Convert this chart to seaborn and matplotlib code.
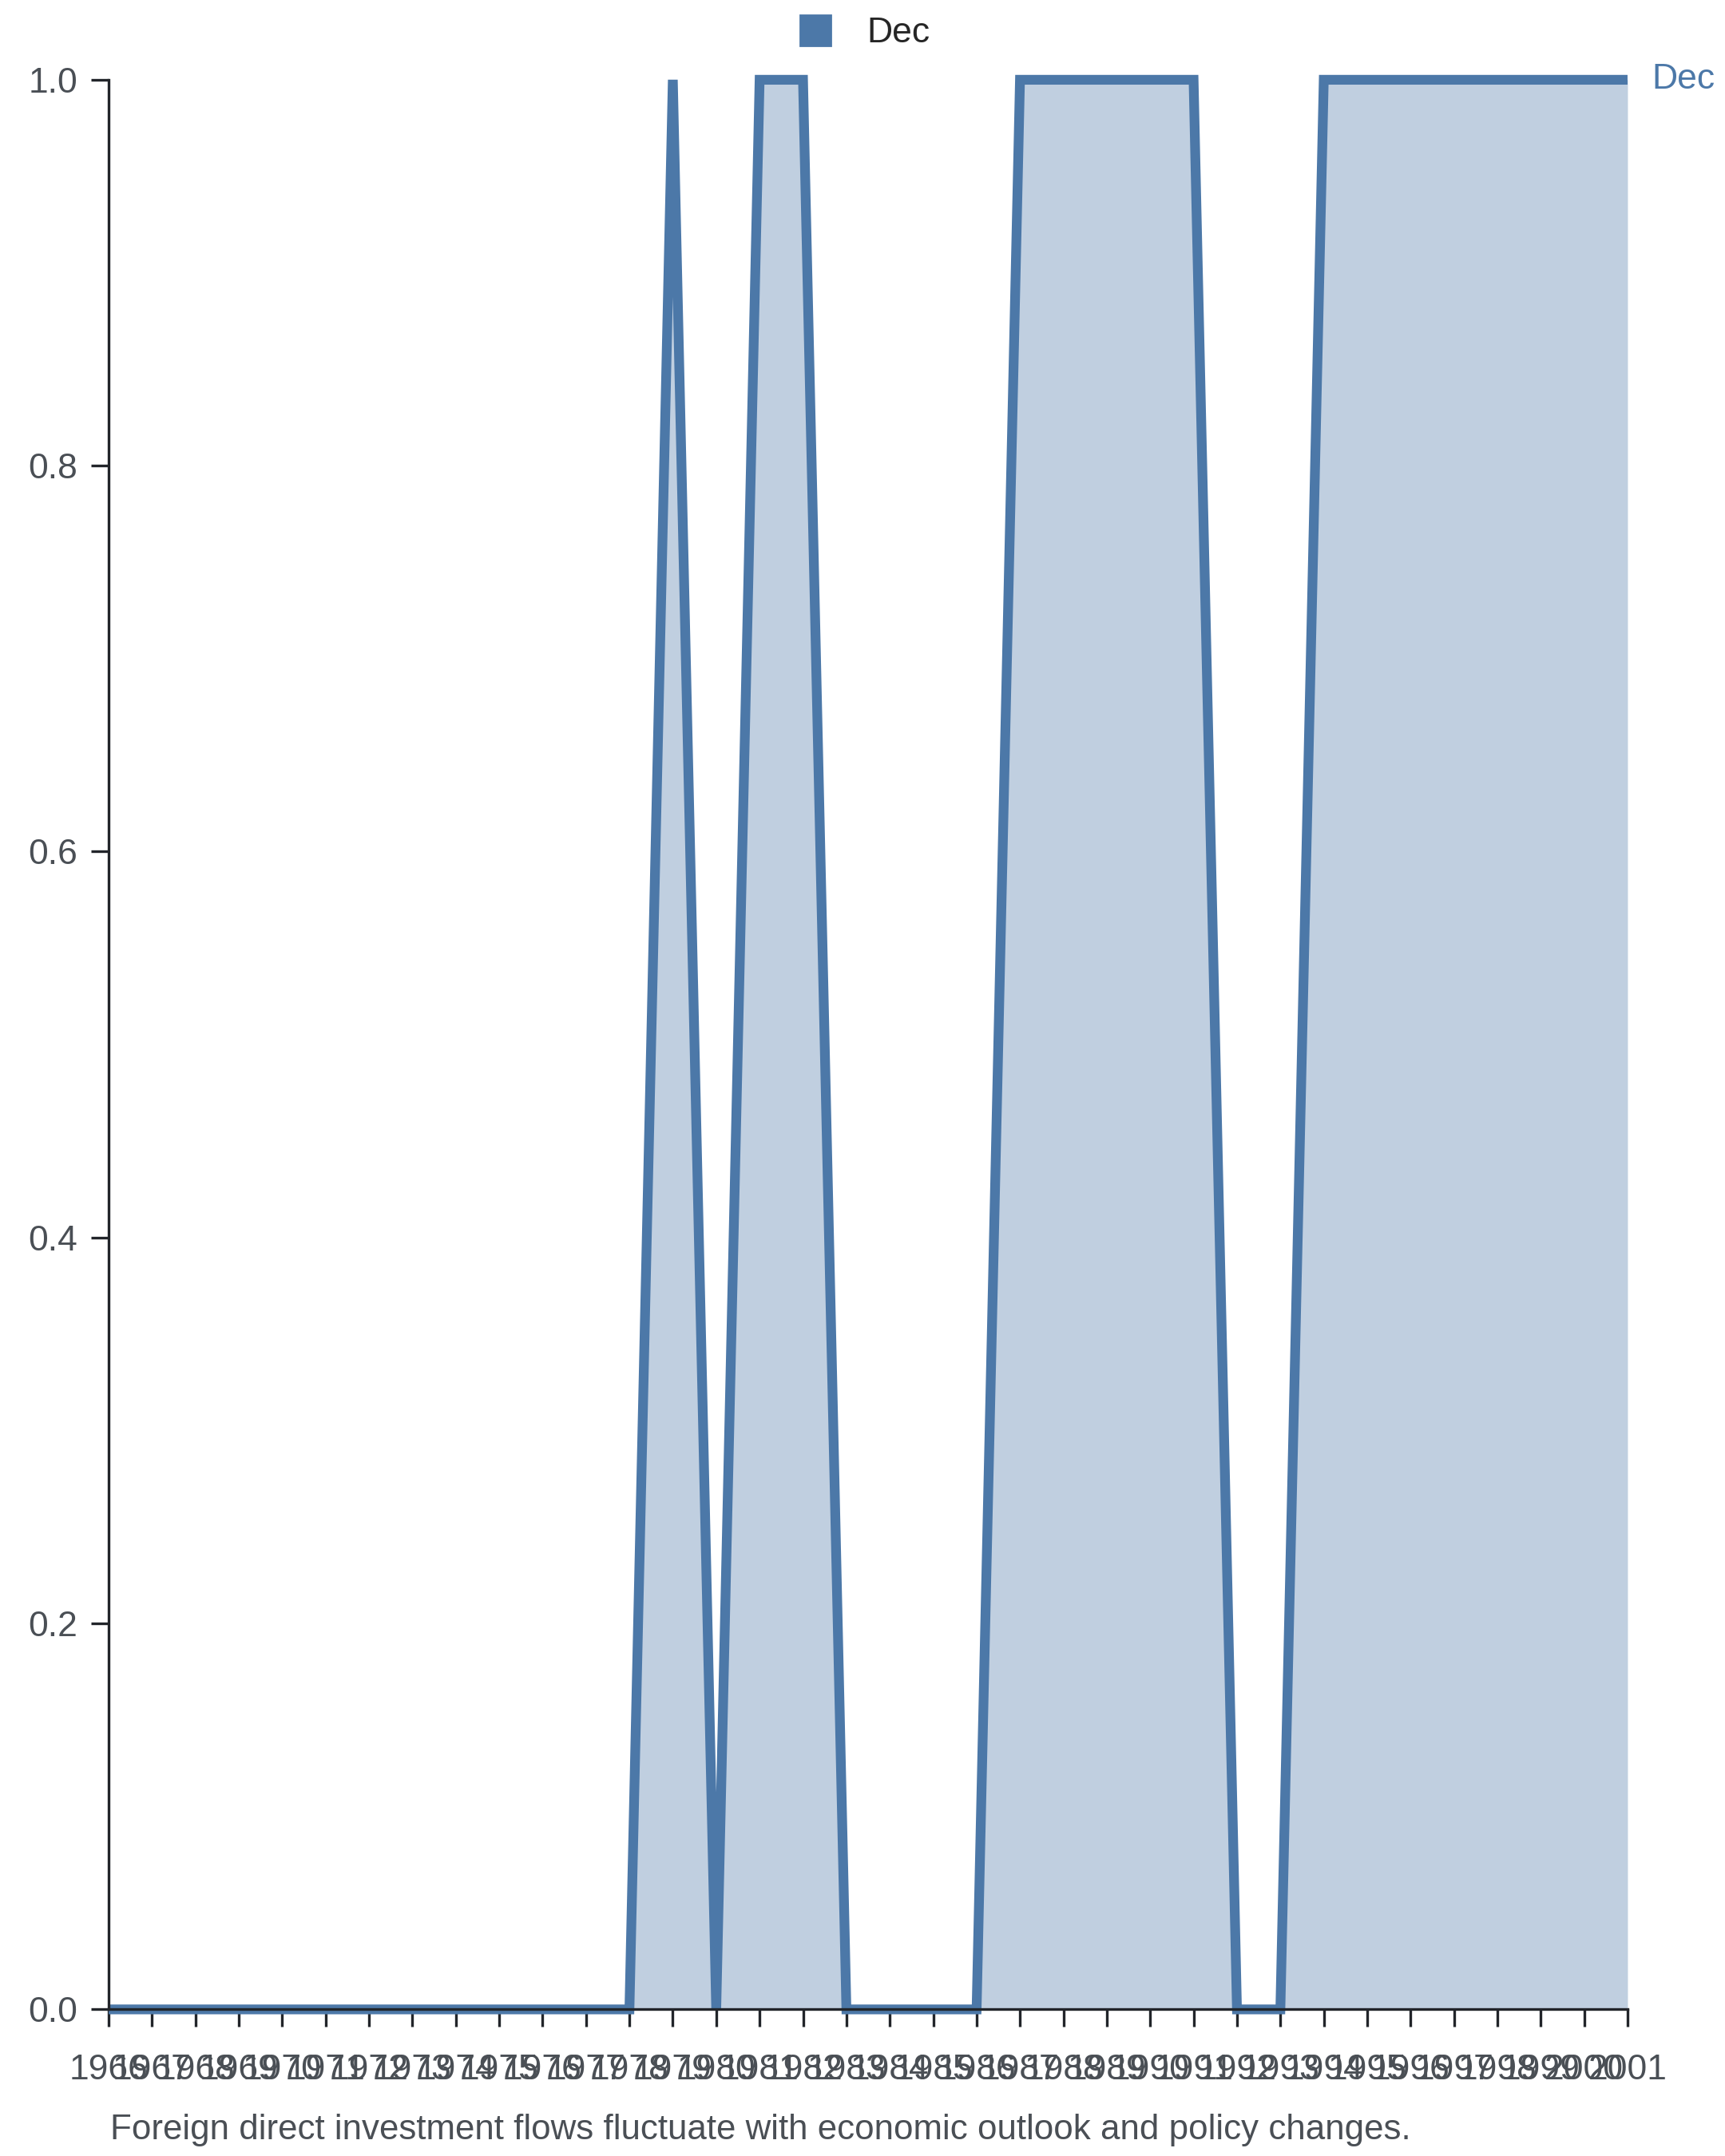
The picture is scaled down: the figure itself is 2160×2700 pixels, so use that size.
import matplotlib
matplotlib.use("Agg")
import matplotlib.pyplot as plt
import seaborn as sns
import pandas as pd
from matplotlib.lines import Line2D

years = list(range(1966, 2002))
dec_values = [0, 0, 0, 0, 0, 0, 0, 0, 0, 0, 0, 0, 0,   # 1966-1978
              1, 0, 1, 1, 0, 0, 0, 0,                   # 1979-1986
              1, 1, 1, 1, 1, 0, 0,                      # 1987-1993
              1, 1, 1, 1, 1, 1, 1, 1]                   # 1994-2001
series_name = "Dec"
caption = "Foreign direct investment flows fluctuate with economic outlook and policy changes."

df = pd.DataFrame({"year": years, "value": dec_values})

sns.set_theme(style="white")
plt.rcParams['font.family'] = ['Liberation Sans', 'DejaVu Sans']

color = "#4c78a8"
text_color = "#4a4f55"
axis_color = "#22252a"

fig = plt.figure(figsize=(10.8, 13.5), dpi=200)
ax = fig.add_axes([0.063, 0.068, 0.8805, 0.895])

ax.fill_between(df["year"], df["value"], 0, color=color, alpha=0.35, linewidth=0)
sns.lineplot(data=df, x="year", y="value", ax=ax, color=color, linewidth=4.4,
             clip_on=False, legend=False)
for ln in ax.lines:
    ln.set_solid_capstyle("butt")
    ln.set_solid_joinstyle("miter")

ax.set_xlim(years[0], years[-1])
ax.set_ylim(0, 1)
ax.set_xticks(years)
ax.set_xticklabels([str(y) for y in years])
ax.set_yticks([0, 0.2, 0.4, 0.6, 0.8, 1.0])
ax.set_yticklabels(["0.0", "0.2", "0.4", "0.6", "0.8", "1.0"])
ax.set_xlabel("")
ax.set_ylabel("")

for s in ["top", "right"]:
    ax.spines[s].set_visible(False)
for s in ["left", "bottom"]:
    ax.spines[s].set_color(axis_color)
    ax.spines[s].set_linewidth(1.2)

ax.tick_params(axis="both", which="major", direction="out", length=8, width=1.2,
               color=axis_color, labelsize=16, labelcolor=text_color, pad=6,
               bottom=True, left=True)
ax.tick_params(axis="x", pad=12)

ax.annotate(series_name, xy=(years[-1], dec_values[-1]), xytext=(11, 0),
            textcoords="offset points", ha="left", va="center",
            color=color, fontsize=16, annotation_clip=False)

handle = Line2D([0], [0], marker="s", linestyle="none", markersize=14,
                markerfacecolor=color, markeredgecolor=color)
fig.legend([handle], [series_name], loc="center", bbox_to_anchor=(0.4955, 0.9845),
           frameon=False, fontsize=16, handletextpad=0.45)

fig.text(0.064, 0.0122, caption, ha="left", va="center", fontsize=15.8, color=text_color)

fig.savefig("out.png", dpi=200)
